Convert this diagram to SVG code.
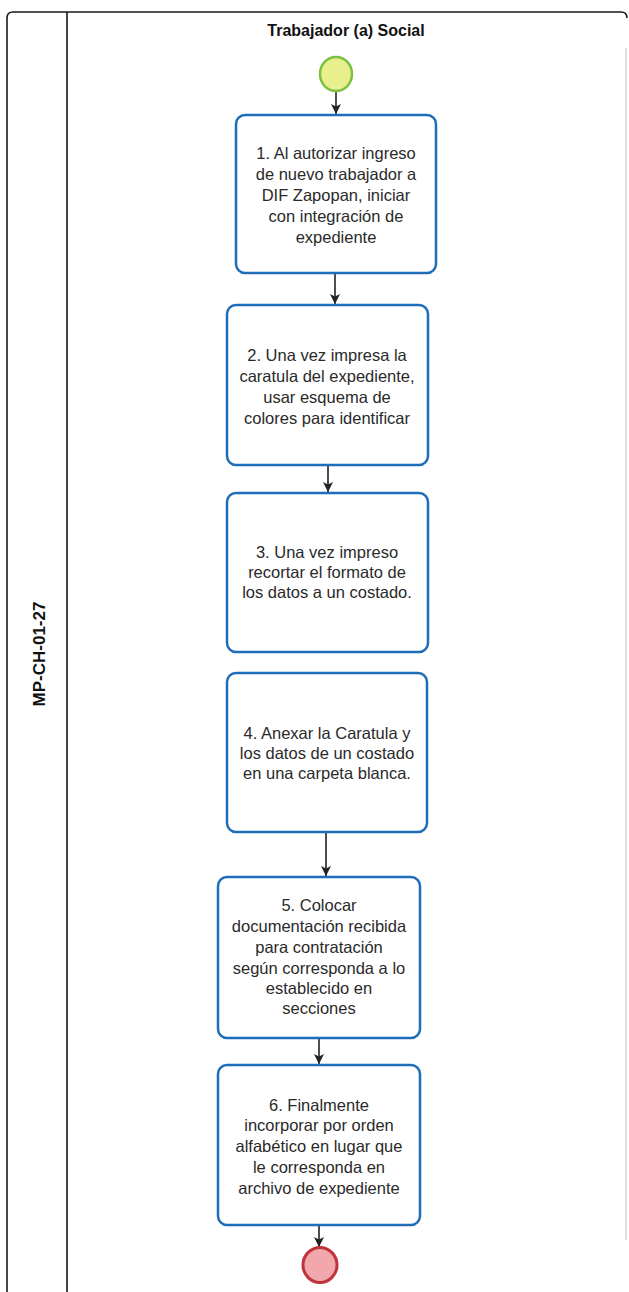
<svg xmlns="http://www.w3.org/2000/svg" width="629" height="1292" viewBox="0 0 629 1292">
  <style>
    .frame { stroke: #1a1a1a; stroke-width: 1.6; fill: none; }
    .task { fill: #ffffff; stroke: #1f6db8; stroke-width: 2.5; }
    .txt { font-family: "Liberation Sans", Arial, sans-serif; font-size: 16.5px; fill: #2a2a2a; text-anchor: middle; }
    .title { font-family: "Liberation Sans", Arial, sans-serif; font-size: 16px; font-weight: bold; fill: #111; text-anchor: middle; }
    .lane { font-family: "Liberation Sans", Arial, sans-serif; font-size: 17px; font-weight: bold; fill: #111; text-anchor: middle; }
    .conn { stroke: #222; stroke-width: 1.6; fill: none; marker-end: url(#arrow); }
  </style>
  <defs>
    <marker id="arrow" viewBox="0 0 10 10" refX="10" refY="5" markerWidth="10" markerHeight="10" markerUnits="userSpaceOnUse" orient="auto">
      <path d="M0,0 L10,5 L0,10 L2.5,5 Z" fill="#222"/>
    </marker>
  </defs>
  <rect width="629" height="1292" fill="#ffffff"/>

  <g id="pool">
    <path class="frame" d="M7,1292 L7,18 Q7,12 13,12 L621,12 Q627,12 627,18"/>
    <line x1="626" y1="48" x2="626" y2="1240" stroke="#c8c8c8" stroke-width="1.2"/>
    <line class="frame" x1="67" y1="12" x2="67" y2="1292"/>
    <text class="lane" transform="translate(45,654) rotate(-90)">MP-CH-01-27</text>
    <text class="title" x="346" y="36">Trabajador (a) Social</text>
  </g>

  <g id="connectors">
    <line class="conn" x1="336" y1="91" x2="336" y2="114"/>
    <line class="conn" x1="335" y1="274" x2="335" y2="304"/>
    <line class="conn" x1="328" y1="466" x2="328" y2="492"/>
    <line class="conn" x1="326" y1="833" x2="326" y2="876"/>
    <line class="conn" x1="319" y1="1039" x2="319" y2="1064"/>
    <line class="conn" x1="319" y1="1226" x2="319" y2="1247"/>
  </g>

  <g id="start">
    <ellipse cx="336" cy="74" rx="16" ry="17" fill="#e8f08e" stroke="#7cc142" stroke-width="2.5"/>
  </g>

  <g id="task1">
    <rect class="task" x="236" y="115" width="200" height="158" rx="9"/>
    <text class="txt" x="336" y="159">1. Al autorizar ingreso</text>
    <text class="txt" x="336" y="180">de nuevo trabajador a</text>
    <text class="txt" x="336" y="201">DIF Zapopan, iniciar</text>
    <text class="txt" x="336" y="222">con integración de</text>
    <text class="txt" x="336" y="243">expediente</text>
  </g>

  <g id="task2">
    <rect class="task" x="227" y="305" width="201" height="160" rx="9"/>
    <text class="txt" x="327" y="361">2. Una vez impresa la</text>
    <text class="txt" x="327" y="382">caratula del expediente,</text>
    <text class="txt" x="327" y="403">usar esquema de</text>
    <text class="txt" x="327" y="424">colores para identificar</text>
  </g>

  <g id="task3">
    <rect class="task" x="227" y="493" width="201" height="159" rx="9"/>
    <text class="txt" x="327" y="558">3. Una vez impreso</text>
    <text class="txt" x="327" y="578">recortar el formato de</text>
    <text class="txt" x="327" y="598">los datos a un costado.</text>
  </g>

  <g id="task4">
    <rect class="task" x="227" y="673" width="200" height="159" rx="9"/>
    <text class="txt" x="327" y="739">4. Anexar la Caratula y</text>
    <text class="txt" x="327" y="759">los datos de un costado</text>
    <text class="txt" x="327" y="779">en una carpeta blanca.</text>
  </g>

  <g id="task5">
    <rect class="task" x="218" y="877" width="202" height="161" rx="9"/>
    <text class="txt" x="319" y="911">5. Colocar</text>
    <text class="txt" x="319" y="932">documentación recibida</text>
    <text class="txt" x="319" y="953">para contratación</text>
    <text class="txt" x="319" y="974">según corresponda a lo</text>
    <text class="txt" x="319" y="994">establecido en</text>
    <text class="txt" x="319" y="1014">secciones</text>
  </g>

  <g id="task6">
    <rect class="task" x="218" y="1065" width="202" height="160" rx="9"/>
    <text class="txt" x="319" y="1111">6. Finalmente</text>
    <text class="txt" x="319" y="1131">incorporar por orden</text>
    <text class="txt" x="319" y="1152">alfabético en lugar que</text>
    <text class="txt" x="319" y="1173">le corresponda en</text>
    <text class="txt" x="319" y="1194">archivo de expediente</text>
  </g>

  <g id="end">
    <ellipse cx="320" cy="1265" rx="17" ry="17.5" fill="#f2a7ad" stroke="#c0323a" stroke-width="3"/>
  </g>
</svg>
